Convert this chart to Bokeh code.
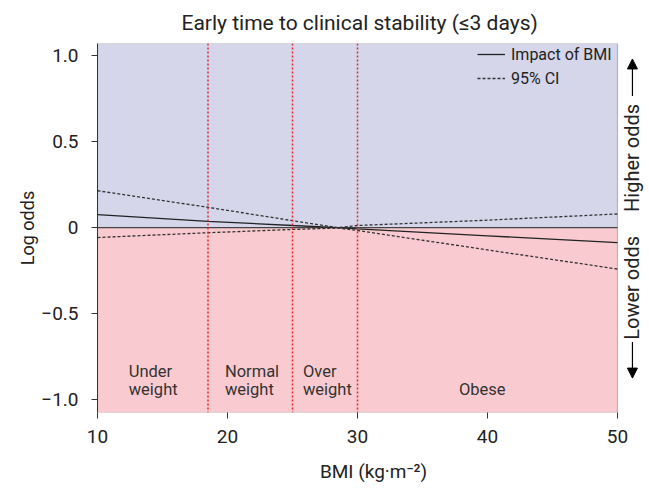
from math import pi
from bokeh.plotting import figure
from bokeh.models import (Span, BoxAnnotation, Label, Arrow, NormalHead, Legend,
                          LegendItem, FixedTicker, ColumnDataSource)
from bokeh.core.properties import value
from bokeh.embed import file_html
from bokeh.resources import INLINE

# ---- data ----
bmi = [10, 18.5, 25, 28.5, 30, 40, 50]
impact = [0.075, 0.036, 0.012, 0.0, -0.008, -0.048, -0.088]
ci_upper = [0.214, 0.118, 0.040, 0.0, 0.012, 0.043, 0.079]
ci_lower = [-0.058, -0.030, -0.011, -0.003, -0.017, -0.130, -0.241]
cutoffs = [18.5, 25, 30]
cat_line1 = ["Under", "Normal", "Over"]
cat_line2 = ["weight", "weight", "weight"]
cat_x = [12.4, 19.8, 25.8]
obese_label = "Obese"
x_ticks = [10, 20, 30, 40, 50]
y_ticks = [-1.0, -0.5, 0.0, 0.5, 1.0]
y_tick_labels = ["\u22121.0", "\u22120.5", "0", "0.5", "1.0"]

FONT = "Roboto"
BLUE = "#d5d6ea"
PINK = "#f9cbd0"
RED = "#e8262f"
TXT = "#222222"

XMIN, XMAX = x_ticks[0], x_ticks[-1]
# frame extends into the right margin so the side annotations are not clipped
p = figure(width=649, height=489, x_range=(XMIN, 52.4615), y_range=(-1.075, 1.07),
           output_backend="svg", toolbar_location=None,
           min_border_left=97, min_border_right=0, min_border_top=42, min_border_bottom=77,
           title="Early time to clinical stability (\u22643 days)")
p.background_fill_color = "white"
p.border_fill_color = "white"
p.outline_line_color = None
p.grid.visible = False

p.title.align = "left"
p.title.offset = 84
p.title.text_font = FONT
p.title.text_font_size = "21px"
p.title.text_font_style = "normal"
p.title.text_color = TXT
p.title.standoff = 17

p.add_layout(BoxAnnotation(left=XMIN, right=XMAX, bottom=0, fill_color=BLUE, fill_alpha=1,
                           line_color=None, level="underlay"))
p.add_layout(BoxAnnotation(left=XMIN, right=XMAX, top=0, fill_color=PINK, fill_alpha=1,
                           line_color=None, level="underlay"))
p.segment(x0=[XMIN], x1=[XMAX], y0=[0], y1=[0], line_color="#444444", line_width=1.3)
for c in cutoffs:
    p.add_layout(Span(location=c, dimension="height", line_color=RED, line_width=1.5, line_dash="2 2"))

src = ColumnDataSource(dict(bmi=bmi, impact=impact, up=ci_upper, lo=ci_lower))
r_imp = p.line("bmi", "impact", source=src, line_color="#222222", line_width=1.3)
r_up = p.line("bmi", "up", source=src, line_color="#333333", line_width=1.3, line_dash="3 2")
r_lo = p.line("bmi", "lo", source=src, line_color="#333333", line_width=1.3, line_dash="3 2")

# plot box outline
p.add_layout(BoxAnnotation(left=XMIN, right=XMAX, fill_alpha=0, line_color="#333333",
                           line_width=1.2, level="overlay"))

legend = Legend(items=[LegendItem(label="Impact of BMI", renderers=[r_imp]),
                       LegendItem(label="95% CI", renderers=[r_up])],
                location=(378, 322), background_fill_alpha=0, border_line_alpha=0,
                label_text_font=FONT, label_text_font_size="16px", label_text_color=TXT,
                glyph_width=28, glyph_height=20, label_height=20, spacing=4,
                margin=0, padding=2, label_standoff=6)
p.add_layout(legend)

# category labels
y1, y2 = -0.834, -0.939
cat_style = dict(text_font=value(FONT), text_font_size="16.5px", text_baseline="middle",
                 text_color="#333333")
p.text(x=cat_x, y=[y1] * 3, text=cat_line1, text_align="left", **cat_style)
p.text(x=cat_x, y=[y2] * 3, text=cat_line2, text_align="left", **cat_style)
p.text(x=[39.6], y=[y2], text=[obese_label], text_align="center", **cat_style)

# axes
p.xaxis.ticker = FixedTicker(ticks=x_ticks)
p.yaxis.ticker = FixedTicker(ticks=y_ticks)
p.yaxis.major_label_overrides = {t: l for t, l in zip(y_ticks, y_tick_labels)}
for ax in (p.xaxis, p.yaxis):
    ax.minor_tick_line_color = None
    ax.major_tick_in = 0
    ax.major_tick_out = 6
    ax.major_tick_line_color = "#333333"
    ax.axis_line_color = "#333333"
    ax.major_label_text_font = FONT
    ax.major_label_text_font_size = "19px"
    ax.major_label_text_color = TXT
    ax.axis_label_text_font = FONT
    ax.axis_label_text_font_style = "normal"
    ax.axis_label_text_color = TXT
p.xaxis.axis_line_color = None
p.xaxis.axis_label = "BMI (kg\u00b7m\u207b\u00b2)"
p.yaxis.axis_label = "Log odds"
p.xaxis.axis_label_text_font_size = "19px"
p.yaxis.axis_label_text_font_size = "18px"
p.xaxis.major_label_standoff = 11
p.xaxis.axis_label_standoff = 14
p.yaxis.major_label_standoff = 13
p.yaxis.axis_label_standoff = 0

# right side annotations: higher / lower odds
xr = 51.15
p.add_layout(Label(x=xr, y=0.405, text="Higher odds", angle=pi / 2, text_align="center",
                   text_baseline="middle", text_font=FONT, text_font_size="20px", text_color=TXT))
p.add_layout(Label(x=xr, y=-0.35, text="Lower odds", angle=pi / 2, text_align="center",
                   text_baseline="middle", text_font=FONT, text_font_size="20px", text_color=TXT))
p.add_layout(Arrow(end=NormalHead(size=10, fill_color="black", line_color="black"),
                   x_start=xr, y_start=0.765, x_end=xr, y_end=0.98, line_width=1.2))
p.add_layout(Arrow(end=NormalHead(size=10, fill_color="black", line_color="black"),
                   x_start=xr, y_start=-0.665, x_end=xr, y_end=-0.875, line_width=1.2))

open("out.html", "w").write(file_html(p, INLINE))
